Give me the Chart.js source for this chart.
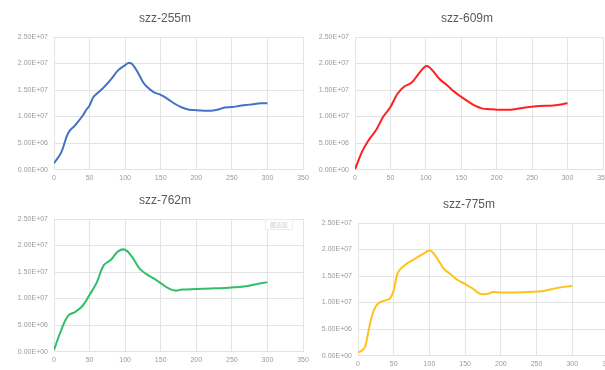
<!DOCTYPE html>
<html><head><meta charset="utf-8">
<script src="https://cdn.jsdelivr.net/npm/chart.js@4/dist/chart.umd.min.js"></script>
<style>
html,body{margin:0;padding:0;background:#fff;width:605px;height:370px;overflow:hidden;position:relative}
canvas{position:absolute}
#tip{position:absolute;left:265px;top:219px;width:26px;height:9px;border:1px solid #ececec;background:#fff;color:#d0d0d0;font:6px "Noto Sans CJK SC";line-height:9px;text-align:center}
</style></head><body>
<canvas id="c1" style="left:0;top:0"></canvas>
<canvas id="c2" style="left:300px;top:0"></canvas>
<canvas id="c3" style="left:0;top:182px"></canvas>
<canvas id="c4" style="left:300px;top:186px"></canvas>
<div id="tip">图表区</div>
<script>
const titles = ['szz-255m','szz-609m','szz-762m','szz-775m'];
const xTicks = [0,50,100,150,200,250,300,350];
const yTicks = [0,5e6,1e7,1.5e7,2e7,2.5e7];

const x1 = [0,10,20,30,40,45,50,55,60,70,80,90,100,105,110,120,125,130,140,150,160,170,180,190,200,220,230,240,250,260,270,280,290,300];
const y1 = [1.2e6,3.2e6,6.9e6,8.4e6,1.01e7,1.12e7,1.21e7,1.36e7,1.43e7,1.55e7,1.70e7,1.87e7,1.97e7,2.01e7,1.99e7,1.78e7,1.65e7,1.57e7,1.46e7,1.41e7,1.33e7,1.24e7,1.17e7,1.13e7,1.12e7,1.11e7,1.13e7,1.17e7,1.18e7,1.20e7,1.22e7,1.23e7,1.25e7,1.25e7];

const x2 = [0,10,20,30,40,50,60,70,80,90,100,105,110,120,130,140,150,160,170,180,190,200,220,240,260,280,300];
const y2 = [0,3.4e6,5.7e6,7.5e6,1.0e7,1.18e7,1.43e7,1.57e7,1.64e7,1.81e7,1.95e7,1.93e7,1.86e7,1.70e7,1.59e7,1.47e7,1.37e7,1.28e7,1.20e7,1.15e7,1.14e7,1.13e7,1.13e7,1.17e7,1.20e7,1.21e7,1.25e7];

const x3 = [0,10,20,30,40,50,60,70,80,90,100,110,120,130,140,150,160,170,180,200,220,240,260,270,280,300];
const y3 = [3e5,4.0e6,6.8e6,7.5e6,8.6e6,1.07e7,1.30e7,1.63e7,1.73e7,1.89e7,1.92e7,1.78e7,1.57e7,1.46e7,1.38e7,1.29e7,1.20e7,1.15e7,1.17e7,1.18e7,1.19e7,1.20e7,1.22e7,1.23e7,1.26e7,1.31e7];

const x4 = [0,5,10,15,20,25,30,40,45,50,55,60,70,80,90,100,105,110,120,130,140,150,160,170,180,190,200,220,240,260,280,300];
const y4 = [6e5,9e5,1.7e6,4.9e6,7.7e6,9.3e6,1.0e7,1.05e7,1.08e7,1.23e7,1.54e7,1.64e7,1.75e7,1.83e7,1.91e7,1.98e7,1.94e7,1.85e7,1.64e7,1.53e7,1.42e7,1.35e7,1.27e7,1.17e7,1.16e7,1.20e7,1.19e7,1.19e7,1.20e7,1.22e7,1.28e7,1.31e7];

const colors = ['#4472c4','#ff2020','#2fbf6b','#ffc21a'];

function fmt(v){
  const [m,e] = Number(v).toExponential(2).split('e');
  const sign = e[0];
  const d = e.slice(1).padStart(2,'0');
  return m + 'E' + sign + d;
}

function make(id, xs, ys, color, title, w, h, yw, padR){
  const cv = document.getElementById(id);
  cv.width = w; cv.height = h;
  cv.style.width = w+'px'; cv.style.height = h+'px';
  const pts = xs.map((x,i)=>({x:x,y:ys[i]}));
  new Chart(cv, {
    type:'line',
    data:{datasets:[{data:pts,borderColor:color,borderWidth:2,pointRadius:0,tension:0.4,fill:false}]},
    options:{
      responsive:false, animation:false, devicePixelRatio:1,
      layout:{padding:0},
      plugins:{legend:{display:false},tooltip:{enabled:false},
        title:{display:true,text:title,color:'#595959',font:{family:'Liberation Sans',size:12,weight:'normal'},padding:{top:11,bottom:11.6}}},
      scales:{
        x:{type:'linear',min:0,max:350,
          afterBuildTicks:s=>{s.ticks=xTicks.map(v=>({value:v}));},
          grid:{color:'#e4e4e4',drawTicks:false},
          border:{color:'#e4e4e4'},
          ticks:{color:'#9a9a9a',font:{family:'Liberation Sans',size:7},padding:4,maxRotation:0,autoSkip:false}},
        y:{min:0,max:2.5e7,
          afterBuildTicks:s=>{s.ticks=yTicks.map(v=>({value:v}));},
          afterFit:s=>{s.width=yw;},
          grid:{color:'#e4e4e4',drawTicks:false},
          border:{color:'#e4e4e4'},
          ticks:{color:'#9a9a9a',font:{family:'Liberation Sans',size:7},padding:6,callback:v=>fmt(v)}},
        yr:{position:'right',min:0,max:1,
          afterFit:s=>{s.width=padR;},
          grid:{display:false,drawOnChartArea:false},
          border:{display:false},
          ticks:{display:false}}
      }
    }
  });
}

make('c1', x1, y1, colors[0], titles[0], 330, 186, 54, 27);
make('c2', x2, y2, colors[1], titles[1], 334, 186, 55, 31);
make('c3', x3, y3, colors[2], titles[2], 330, 186, 54, 27);
make('c4', x4, y4, colors[3], titles[3], 338, 186, 58, 30);
</script>
</body></html>
